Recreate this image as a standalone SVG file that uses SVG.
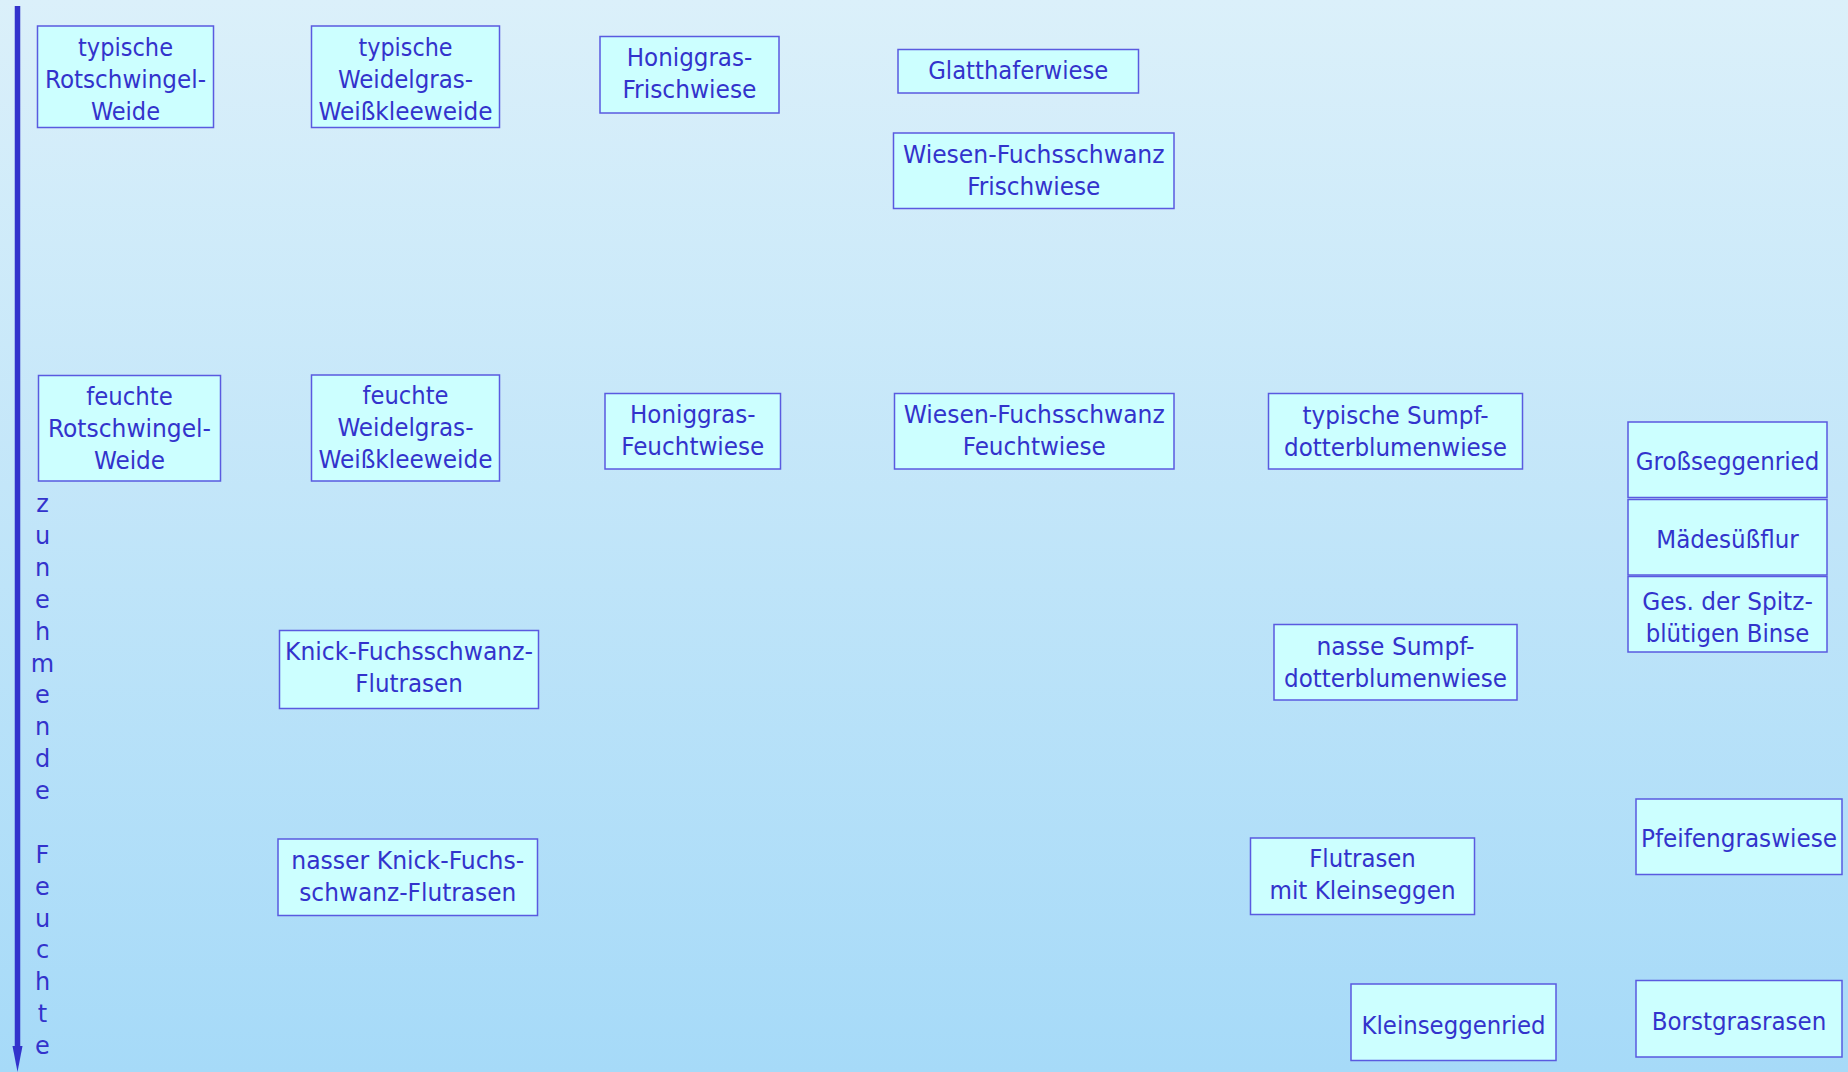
<svg xmlns="http://www.w3.org/2000/svg" width="1848" height="1072" viewBox="0 0 1848 1072">
<defs>
<linearGradient id="bg" x1="0" y1="0" x2="0" y2="1">
<stop offset="0" stop-color="#DBF0FA"/>
<stop offset="1" stop-color="#A6DAF8"/>
</linearGradient>
</defs>
<style>
.box{fill:#CCFFFF;stroke:#5A5AE0;stroke-width:1.5}
.t{font-family:"DejaVu Sans Condensed","DejaVu Sans",sans-serif;font-size:24px;fill:#3333CC;text-anchor:middle}
.ax{font-family:"DejaVu Sans","Liberation Sans",sans-serif;font-size:24px;fill:#3333CC;text-anchor:middle}
</style>
<rect x="0" y="0" width="1848" height="1072" fill="url(#bg)"/>

<g id="connectors">
<line x1="17.5" y1="6" x2="17.5" y2="1048" stroke="#3333CC" stroke-width="5.5"/>
<polygon points="12.5,1046 22.5,1046 17.5,1072" fill="#3333CC"/>
</g>

<g id="axis-label">
<text class="ax" x="42.5" y="512">z</text>
<text class="ax" x="42.5" y="544">u</text>
<text class="ax" x="42.5" y="576">n</text>
<text class="ax" x="42.5" y="607.5">e</text>
<text class="ax" x="42.5" y="639.5">h</text>
<text class="ax" x="42.5" y="671.5">m</text>
<text class="ax" x="42.5" y="703">e</text>
<text class="ax" x="42.5" y="735">n</text>
<text class="ax" x="42.5" y="767">d</text>
<text class="ax" x="42.5" y="799">e</text>
<text class="ax" x="42.5" y="862.5">F</text>
<text class="ax" x="42.5" y="894.5">e</text>
<text class="ax" x="42.5" y="926.5">u</text>
<text class="ax" x="42.5" y="958">c</text>
<text class="ax" x="42.5" y="990">h</text>
<text class="ax" x="42.5" y="1022">t</text>
<text class="ax" x="42.5" y="1054">e</text>
</g>

<g id="n1">
<rect class="box" x="37.5" y="26" width="176" height="101.5"/>
<text class="t" x="125.5" y="56" textLength="95" lengthAdjust="spacingAndGlyphs">typische</text>
<text class="t" x="125.5" y="88" textLength="161" lengthAdjust="spacingAndGlyphs">Rotschwingel-</text>
<text class="t" x="125.5" y="120" textLength="69" lengthAdjust="spacingAndGlyphs">Weide</text>
</g>

<g id="n2">
<rect class="box" x="311.5" y="26" width="188" height="101.5"/>
<text class="t" x="405.5" y="56" textLength="94" lengthAdjust="spacingAndGlyphs">typische</text>
<text class="t" x="405.5" y="88" textLength="135" lengthAdjust="spacingAndGlyphs">Weidelgras-</text>
<text class="t" x="405.5" y="120" textLength="174" lengthAdjust="spacingAndGlyphs">Weißkleeweide</text>
</g>

<g id="n3">
<rect class="box" x="600" y="36.5" width="179" height="76.5"/>
<text class="t" x="689.5" y="65.5" textLength="125.5" lengthAdjust="spacingAndGlyphs">Honiggras-</text>
<text class="t" x="689.5" y="97.5" textLength="134" lengthAdjust="spacingAndGlyphs">Frischwiese</text>
</g>

<g id="n4">
<rect class="box" x="898" y="49.5" width="240.5" height="43.5"/>
<text class="t" x="1018.25" y="79.25" textLength="180" lengthAdjust="spacingAndGlyphs">Glatthaferwiese</text>
</g>

<g id="n5">
<rect class="box" x="893.5" y="133" width="280.5" height="75.5"/>
<text class="t" x="1033.75" y="162.75" textLength="261.5" lengthAdjust="spacingAndGlyphs">Wiesen-Fuchsschwanz</text>
<text class="t" x="1033.75" y="194.75" textLength="133" lengthAdjust="spacingAndGlyphs">Frischwiese</text>
</g>

<g id="n6">
<rect class="box" x="38.5" y="375.5" width="182" height="105.5"/>
<text class="t" x="129.5" y="405.25" textLength="86.5" lengthAdjust="spacingAndGlyphs">feuchte</text>
<text class="t" x="129.5" y="437.25" textLength="163" lengthAdjust="spacingAndGlyphs">Rotschwingel-</text>
<text class="t" x="129.5" y="469.25" textLength="71" lengthAdjust="spacingAndGlyphs">Weide</text>
</g>

<g id="n7">
<rect class="box" x="311.5" y="375" width="188" height="106"/>
<text class="t" x="405.5" y="404" textLength="86" lengthAdjust="spacingAndGlyphs">feuchte</text>
<text class="t" x="405.5" y="436" textLength="136" lengthAdjust="spacingAndGlyphs">Weidelgras-</text>
<text class="t" x="405.5" y="468" textLength="174" lengthAdjust="spacingAndGlyphs">Weißkleeweide</text>
</g>

<g id="n8">
<rect class="box" x="605" y="393.5" width="175.5" height="75.5"/>
<text class="t" x="692.75" y="423.25" textLength="125.5" lengthAdjust="spacingAndGlyphs">Honiggras-</text>
<text class="t" x="692.75" y="455.25" textLength="143" lengthAdjust="spacingAndGlyphs">Feuchtwiese</text>
</g>

<g id="n9">
<rect class="box" x="894.5" y="393.5" width="279.5" height="75.5"/>
<text class="t" x="1034.25" y="423.25" textLength="261" lengthAdjust="spacingAndGlyphs">Wiesen-Fuchsschwanz</text>
<text class="t" x="1034.25" y="455.25" textLength="143" lengthAdjust="spacingAndGlyphs">Feuchtwiese</text>
</g>

<g id="n10">
<rect class="box" x="1268.5" y="393.5" width="254" height="75.5"/>
<text class="t" x="1395.5" y="424.25" textLength="186" lengthAdjust="spacingAndGlyphs">typische Sumpf-</text>
<text class="t" x="1395.5" y="456.25" textLength="223" lengthAdjust="spacingAndGlyphs">dotterblumenwiese</text>
</g>

<g id="n11">
<rect class="box" x="1628" y="422" width="199" height="75.5"/>
<text class="t" x="1727.5" y="470" textLength="183.5" lengthAdjust="spacingAndGlyphs">Großseggenried</text>
</g>

<g id="n12">
<rect class="box" x="1628" y="499.5" width="199" height="75.5"/>
<text class="t" x="1727.5" y="547.5" textLength="142.5" lengthAdjust="spacingAndGlyphs">Mädesüßflur</text>
</g>

<g id="n13">
<rect class="box" x="1628" y="576.5" width="199" height="75.5"/>
<text class="t" x="1727.5" y="609.5" textLength="170.5" lengthAdjust="spacingAndGlyphs">Ges. der Spitz-</text>
<text class="t" x="1727.5" y="641.5" textLength="163.5" lengthAdjust="spacingAndGlyphs">blütigen Binse</text>
</g>

<g id="n14">
<rect class="box" x="279.5" y="630.5" width="259" height="78"/>
<text class="t" x="409" y="660.25" textLength="248" lengthAdjust="spacingAndGlyphs">Knick-Fuchsschwanz-</text>
<text class="t" x="409" y="692.25" textLength="107.5" lengthAdjust="spacingAndGlyphs">Flutrasen</text>
</g>

<g id="n15">
<rect class="box" x="1274" y="624.5" width="243" height="75.5"/>
<text class="t" x="1395.5" y="655.25" textLength="158" lengthAdjust="spacingAndGlyphs">nasse Sumpf-</text>
<text class="t" x="1395.5" y="687.25" textLength="223" lengthAdjust="spacingAndGlyphs">dotterblumenwiese</text>
</g>

<g id="n16">
<rect class="box" x="278" y="839" width="259.5" height="76.5"/>
<text class="t" x="407.75" y="869.25" textLength="233" lengthAdjust="spacingAndGlyphs">nasser Knick-Fuchs-</text>
<text class="t" x="407.75" y="901.25" textLength="217" lengthAdjust="spacingAndGlyphs">schwanz-Flutrasen</text>
</g>

<g id="n17">
<rect class="box" x="1250.5" y="838" width="224" height="76.5"/>
<text class="t" x="1362.5" y="867.25" textLength="106.5" lengthAdjust="spacingAndGlyphs">Flutrasen</text>
<text class="t" x="1362.5" y="899.25" textLength="186" lengthAdjust="spacingAndGlyphs">mit Kleinseggen</text>
</g>

<g id="n18">
<rect class="box" x="1636" y="799" width="206" height="75.5"/>
<text class="t" x="1739" y="847" textLength="196" lengthAdjust="spacingAndGlyphs">Pfeifengraswiese</text>
</g>

<g id="n19">
<rect class="box" x="1351" y="984" width="205" height="76.5"/>
<text class="t" x="1453.5" y="1033.5" textLength="184" lengthAdjust="spacingAndGlyphs">Kleinseggenried</text>
</g>

<g id="n20">
<rect class="box" x="1636" y="980.5" width="206" height="76.5"/>
<text class="t" x="1739" y="1030" textLength="174.5" lengthAdjust="spacingAndGlyphs">Borstgrasrasen</text>
</g>
</svg>
